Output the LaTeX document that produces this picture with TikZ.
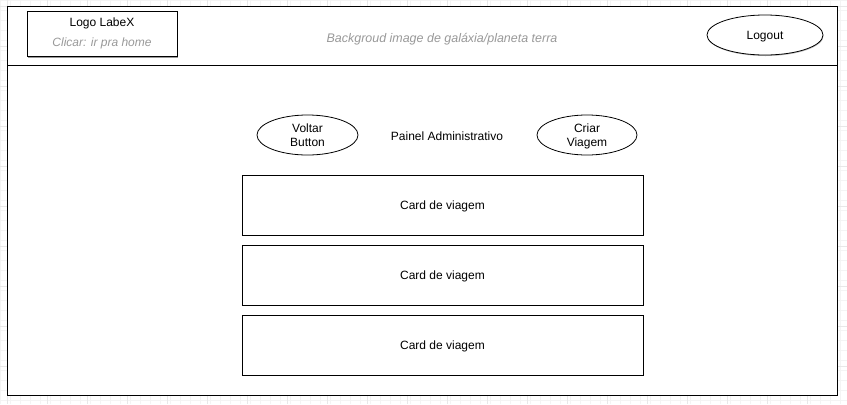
\documentclass[tikz,border=0pt]{standalone}
\usepackage{fontspec}
\setmainfont{Liberation Sans}
\usetikzlibrary{shapes.geometric}
\definecolor{hint}{HTML}{999999}
\definecolor{gridminor}{HTML}{F4F4F4}
\definecolor{gridmajor}{HTML}{E8E8E8}
\begin{document}
\begin{tikzpicture}[x=0.75pt,y=-0.75pt,
  every node/.style={font=\fontsize{9pt}{10.5pt}\selectfont, inner sep=0pt, text depth=0pt},
  frame/.style={draw=black, line width=0.75pt},
  box/.style={draw=black, line width=0.75pt, fill=white, rectangle},
  oval/.style={draw=black, line width=0.6pt, fill=white, ellipse, align=center},
  hinttext/.style={text=hint, font=\fontsize{9pt}{10.5pt}\selectfont\itshape},
  shadowfill/.style={fill=black!40}]
\useasboundingbox (0,0) rectangle (847,404);
% grid
\draw[gridminor, line width=0.5pt] (-3,-4) grid[step=7.5pt] (847,404);
\foreach \gx in {7,47,...,847} \draw[gridmajor, line width=0.6pt] (\gx,0) -- (\gx,404);
\foreach \gy in {6,46,...,404} \draw[gridmajor, line width=0.6pt] (0,\gy) -- (847,\gy);
% outer frame
\draw[frame, fill=white] (7,6) rectangle (837,395);
\coordinate (hl) at (7,65);
\coordinate (hr) at (837,65);
\draw[frame] (hl) -- (hr);
% logo box
\fill[shadowfill] (28,12.5) rectangle (178,57.5);
\node[box, minimum width=112.5pt, minimum height=33.75pt] (logo) at (102,33.5) {};
\node (logotitle) at (102,22.5) {Logo LabeX};
\node[hinttext] (logohint) at (102,42) {Clicar: ir pra home};
% background text
\node[hinttext, font=\fontsize{9.35pt}{11pt}\selectfont\itshape] (bg) at (442,37.5) {Backgroud image de galáxia/planeta terra};
% logout
\fill[black!25] (765.5,36) ellipse [x radius=58, y radius=20];
\node[oval, minimum width=87pt, minimum height=30pt] (logout) at (765,35) {Logout};
% header row of content
\node[oval, minimum width=75.75pt, minimum height=30pt] (voltar) at (307.5,135) {Voltar\\Button};
\node (painel) at (447,136) {Painel Administrativo};
\node[oval, minimum width=75pt, minimum height=30pt] (criar) at (587,135) {Criar\\Viagem};
% cards
\node[box, minimum width=300.75pt, minimum height=45pt] (card1) at (442.5,205) {Card de viagem};
\node[box, minimum width=300.75pt, minimum height=45pt] (card2) at (442.5,275) {Card de viagem};
\node[box, minimum width=300.75pt, minimum height=45pt] (card3) at (442.5,345) {Card de viagem};
\end{tikzpicture}
\end{document}
